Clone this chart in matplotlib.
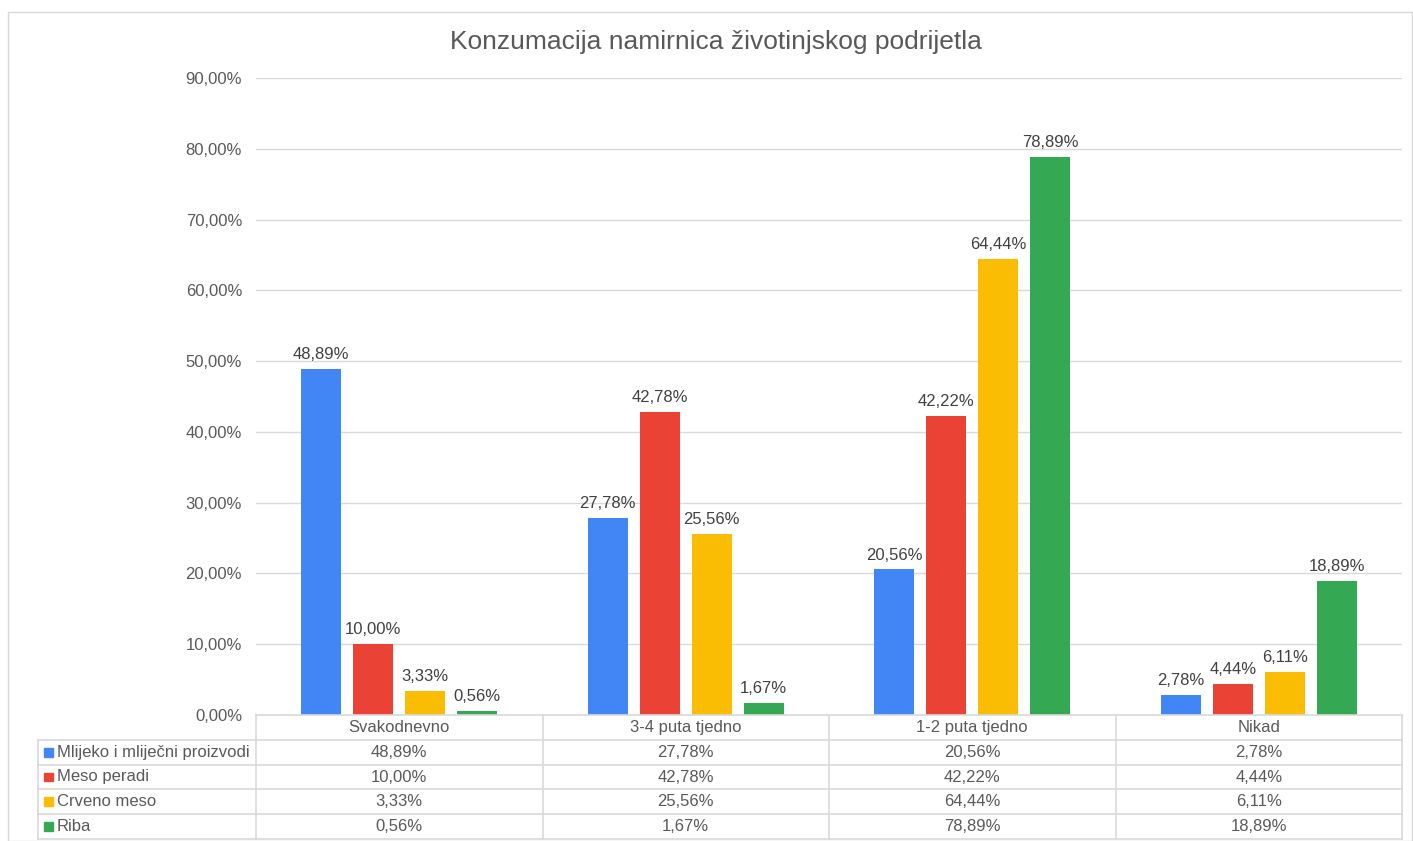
"""Grouped bar chart with a data table underneath (Excel-style)."""

import matplotlib.pyplot as plt
from matplotlib.lines import Line2D
from matplotlib.patches import Rectangle

plt.rcParams["font.family"] = ["Liberation Sans", "DejaVu Sans"]

# --- data -------------------------------------------------------------------
categories = ["Svakodnevno", "3-4 puta tjedno", "1-2 puta tjedno", "Nikad"]
series_names = ["Mlijeko i mliječni proizvodi", "Meso peradi", "Crveno meso", "Riba"]
mlijeko = [48.89, 27.78, 20.56, 2.78]
meso_peradi = [10.00, 42.78, 42.22, 4.44]
crveno_meso = [3.33, 25.56, 64.44, 6.11]
riba = [0.56, 1.67, 78.89, 18.89]
series_values = [mlijeko, meso_peradi, crveno_meso, riba]
colors = ["#4285F4", "#EA4335", "#FBBC04", "#34A853"]
title = "Konzumacija namirnica životinjskog podrijetla"

W, H = 1413, 841
TEXT = "#595959"
GRID = "#D9D9D9"
FS = 12


def fmt(v):
    return f"{v:.2f}%".replace(".", ",")


def px(x0, y0, x1, y1):
    """Pixel box (top-left origin) -> figure rect."""
    return [x0 / W, 1 - y1 / H, (x1 - x0) / W, (y1 - y0) / H]


fig = plt.figure(figsize=(W / 100, H / 100), dpi=100)

# outer chart border
fig.add_artist(Rectangle((8 / W, 0), (W - 9) / W, 1 - 12 / H, transform=fig.transFigure,
                         fill=False, edgecolor=GRID, lw=1))

fig.text(716 / W, 1 - 42 / H, title, ha="center", va="center", fontsize=19, color=TEXT)

# --- bars -------------------------------------------------------------------
plot_left, plot_right, plot_top, plot_bottom = 256, 1402, 78, 715
ax = fig.add_axes(px(plot_left, plot_top, plot_right, plot_bottom))
n = len(series_names)
bar_w = 0.14
step = 0.1815
for i, (name, vals, c) in enumerate(zip(series_names, series_values, colors)):
    xs = [k + (i - (n - 1) / 2) * step for k in range(len(categories))]
    ax.bar(xs, vals, bar_w, color=c, zorder=3)
    for x, v in zip(xs, vals):
        ax.annotate(fmt(v), (x, v), xytext=(0, 5), textcoords="offset points",
                    ha="center", va="bottom", fontsize=FS, color="#404040")

ax.set_xlim(-0.5, len(categories) - 0.5)
ax.set_ylim(0, 90)
ax.set_yticks(range(0, 91, 10))
ax.set_yticklabels([fmt(t) for t in range(0, 91, 10)])
ax.tick_params(axis="y", length=0, pad=10, labelsize=FS, labelcolor=TEXT)
ax.set_xticks([])
ax.grid(axis="y", color=GRID, lw=1, zorder=0)
for s in ax.spines.values():
    s.set_visible(False)

# --- data table -------------------------------------------------------------
label_col = (plot_left - 38) / ((plot_right - plot_left) / len(categories))
tab = fig.add_axes(px(38, plot_bottom, plot_right, 839))
x_lo, x_hi = -0.5 - label_col, len(categories) - 0.5
tab.set_xlim(x_lo, x_hi)
tab.set_ylim(n + 1, 0)
tab.axis("off")
lc = dict(color=GRID, lw=1.2, clip_on=False)

# horizontal lines
tab.add_line(Line2D([-0.5, x_hi], [0, 0], **lc))
for r in range(1, n + 2):
    tab.add_line(Line2D([x_lo, x_hi], [r, r], **lc))
# vertical lines
tab.add_line(Line2D([x_lo, x_lo], [1, n + 1], **lc))
for k in range(len(categories) + 1):
    tab.add_line(Line2D([k - 0.5, k - 0.5], [0, n + 1], **lc))

for k, cat in enumerate(categories):
    tab.text(k, 0.5, cat, ha="center", va="center", fontsize=FS, color=TEXT)
for i, (name, vals, c) in enumerate(zip(series_names, series_values, colors)):
    y = i + 1.5
    tab.add_patch(Rectangle((x_lo + 0.022, y - 0.18), 0.031, 0.36, color=c, clip_on=False))
    tab.text(x_lo + 0.066, y, name, ha="left", va="center", fontsize=FS, color=TEXT)
    for k, v in enumerate(vals):
        tab.text(k, y, fmt(v), ha="center", va="center", fontsize=FS, color=TEXT)

fig.savefig("out.png", dpi=100)
